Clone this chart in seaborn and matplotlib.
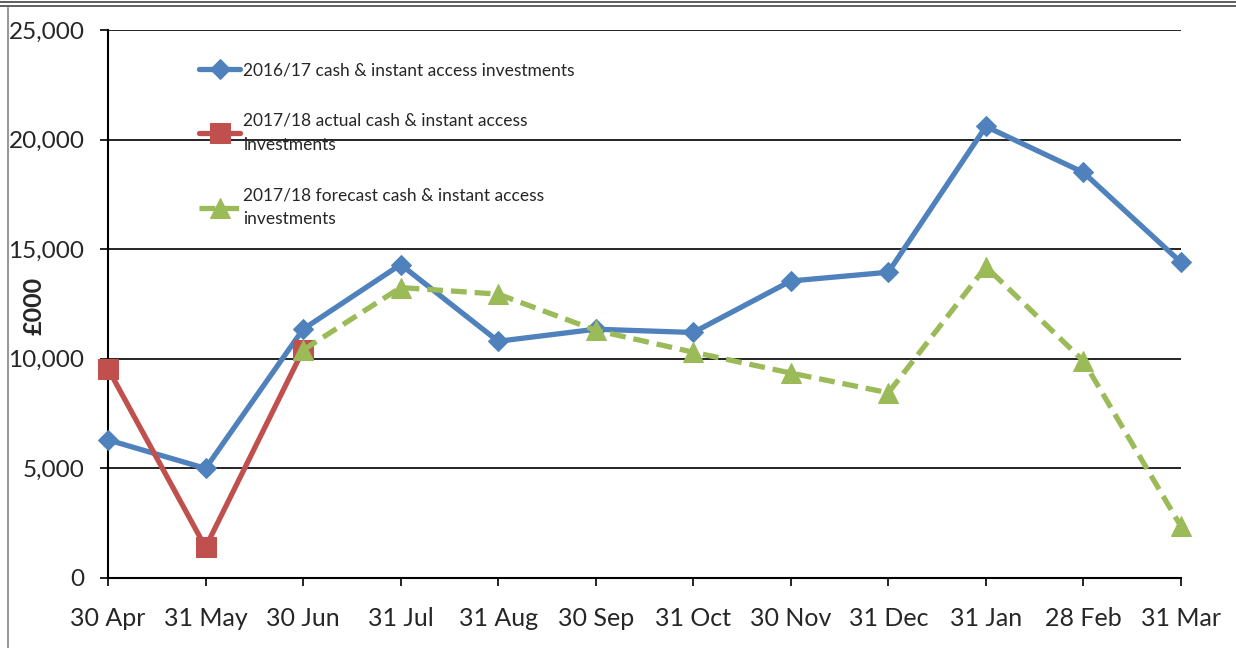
import matplotlib
matplotlib.use("Agg")
import matplotlib.pyplot as plt
import seaborn as sns
import pandas as pd
from matplotlib.lines import Line2D

months = ["30 Apr", "31 May", "30 Jun", "31 Jul", "31 Aug", "30 Sep",
          "31 Oct", "30 Nov", "31 Dec", "31 Jan", "28 Feb", "31 Mar"]
cash_2016 = [6300, 5000, 11350, 14300, 10800, 11350, 11200, 13550, 13950, 20600, 18500, 14400]
actual_2017 = [9550, 1400, 10400]
forecast_2017 = [None, None, 10400, 13250, 12950, 11300, 10300, 9350, 8450, 14200, 9900, 2350]
yticks = [0, 5000, 10000, 15000, 20000, 25000]
labels = ["2016/17 cash & instant access investments",
          "2017/18 actual cash & instant access\ninvestments",
          "2017/18 forecast cash & instant access\ninvestments"]

sns.set_style("white")
plt.rcParams['font.family'] = ['Lato', 'DejaVu Sans']

fig = plt.figure(figsize=(12.36, 6.48), dpi=100)
ax = fig.add_axes([108/1236, 1 - 578/648, (1181-108)/1236, (578-30)/648])

idx = list(range(len(months)))
df1 = pd.DataFrame({"x": idx, "y": cash_2016})
df2 = pd.DataFrame({"x": idx[:len(actual_2017)], "y": actual_2017})
df3 = pd.DataFrame({"x": idx, "y": forecast_2017}).dropna()

blue, red, green = "#4F81BD", "#C0504D", "#9BBB59"
sns.lineplot(data=df1, x="x", y="y", ax=ax, color=blue, lw=3.8, marker="D",
             markersize=10, markeredgecolor=blue, label=labels[0], zorder=3, clip_on=False)
sns.lineplot(data=df2, x="x", y="y", ax=ax, color=red, lw=3.8, marker="s",
             markersize=14, markeredgecolor=red, label=labels[1], zorder=4, clip_on=False)
sns.lineplot(data=df3, x="x", y="y", ax=ax, color=green, lw=3.8, marker="^",
             markersize=15, markeredgecolor=green, label=labels[2], zorder=5,
             linestyle=(0, (3, 1.5)), clip_on=False)

ax.set_xlim(0, 11)
ax.set_ylim(0, 25000)
ax.set_yticks(yticks)
ax.set_yticklabels([f"{v:,}" for v in yticks], fontsize=17.5)
ax.set_xticks(idx)
ax.set_xticklabels(months, fontsize=18)
ax.grid(axis="y", color="black", lw=1.2, zorder=0)
ax.set_axisbelow(True)
for s in ["top", "right"]:
    ax.spines[s].set_visible(False)
for s in ["left", "bottom"]:
    ax.spines[s].set_color("black")
    ax.spines[s].set_linewidth(1.5)
ax.tick_params(axis="both", direction="out", length=6, width=1.2, color="black",
               bottom=True, left=True)
ax.tick_params(axis="y", pad=11)
ax.tick_params(axis="x", pad=15)
ax.set_xlabel("")
ax.set_ylabel("£000", fontsize=18, fontweight="bold")
ax.yaxis.set_label_coords(-0.058, 0.496)

leg = ax.legend(loc="upper left", bbox_to_anchor=(0.07, 0.97), frameon=False,
                fontsize=12.5, labelspacing=2.0, handlelength=2.4, handletextpad=0.15)
for t in leg.get_texts():
    t.set_linespacing(1.6)

# page border lines
fig.add_artist(Line2D([0, 1], [1 - 2/648, 1 - 2/648], color="#444444", lw=1.2))
fig.add_artist(Line2D([0, 1], [1 - 6/648, 1 - 6/648], color="#444444", lw=1.2))
fig.add_artist(Line2D([8/1236, 8/1236], [0, 1 - 8/648], color="#999999", lw=1.5))

fig.savefig("out.png", dpi=100)
